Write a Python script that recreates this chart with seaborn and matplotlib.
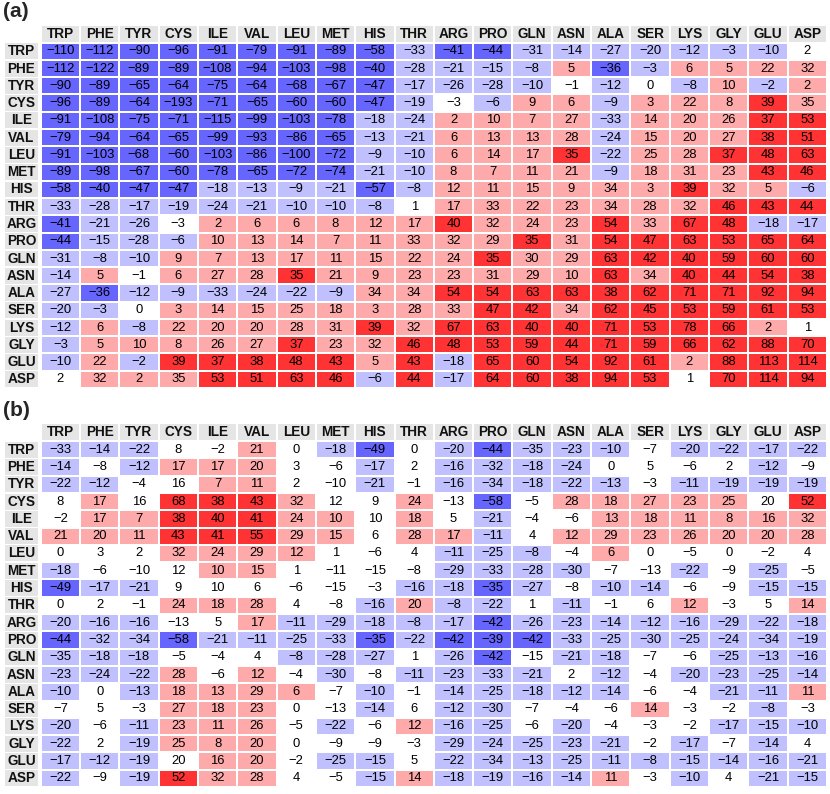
import numpy as np
import matplotlib
matplotlib.use("Agg")
import matplotlib.pyplot as plt
import seaborn as sns
from matplotlib.colors import ListedColormap
from matplotlib.patches import Rectangle

residues = ['TRP', 'PHE', 'TYR', 'CYS', 'ILE', 'VAL', 'LEU', 'MET', 'HIS', 'THR',
            'ARG', 'PRO', 'GLN', 'ASN', 'ALA', 'SER', 'LYS', 'GLY', 'GLU', 'ASP']

# panel (a) values
vals_a = [
    [-110, -112, -90, -96, -91, -79, -91, -89, -58, -33, -41, -44, -31, -14, -27, -20, -12, -3, -10, 2],
    [-112, -122, -89, -89, -108, -94, -103, -98, -40, -28, -21, -15, -8, 5, -36, -3, 6, 5, 22, 32],
    [-90, -89, -65, -64, -75, -64, -68, -67, -47, -17, -26, -28, -10, -1, -12, 0, -8, 10, -2, 2],
    [-96, -89, -64, -193, -71, -65, -60, -60, -47, -19, -3, -6, 9, 6, -9, 3, 22, 8, 39, 35],
    [-91, -108, -75, -71, -115, -99, -103, -78, -18, -24, 2, 10, 7, 27, -33, 14, 20, 26, 37, 53],
    [-79, -94, -64, -65, -99, -93, -86, -65, -13, -21, 6, 13, 13, 28, -24, 15, 20, 27, 38, 51],
    [-91, -103, -68, -60, -103, -86, -100, -72, -9, -10, 6, 14, 17, 35, -22, 25, 28, 37, 48, 63],
    [-89, -98, -67, -60, -78, -65, -72, -74, -21, -10, 8, 7, 11, 21, -9, 18, 31, 23, 43, 46],
    [-58, -40, -47, -47, -18, -13, -9, -21, -57, -8, 12, 11, 15, 9, 34, 3, 39, 32, 5, -6],
    [-33, -28, -17, -19, -24, -21, -10, -10, -8, 1, 17, 33, 22, 23, 34, 28, 32, 46, 43, 44],
    [-41, -21, -26, -3, 2, 6, 6, 8, 12, 17, 40, 32, 24, 23, 54, 33, 67, 48, -18, -17],
    [-44, -15, -28, -6, 10, 13, 14, 7, 11, 33, 32, 29, 35, 31, 54, 47, 63, 53, 65, 64],
    [-31, -8, -10, 9, 7, 13, 17, 11, 15, 22, 24, 35, 30, 29, 63, 42, 40, 59, 60, 60],
    [-14, 5, -1, 6, 27, 28, 35, 21, 9, 23, 23, 31, 29, 10, 63, 34, 40, 44, 54, 38],
    [-27, -36, -12, -9, -33, -24, -22, -9, 34, 34, 54, 54, 63, 63, 38, 62, 71, 71, 92, 94],
    [-20, -3, 0, 3, 14, 15, 25, 18, 3, 28, 33, 47, 42, 34, 62, 45, 53, 59, 61, 53],
    [-12, 6, -8, 22, 20, 20, 28, 31, 39, 32, 67, 63, 40, 40, 71, 53, 78, 66, 2, 1],
    [-3, 5, 10, 8, 26, 27, 37, 23, 32, 46, 48, 53, 59, 44, 71, 59, 66, 62, 88, 70],
    [-10, 22, -2, 39, 37, 38, 48, 43, 5, 43, -18, 65, 60, 54, 92, 61, 2, 88, 113, 114],
    [2, 32, 2, 35, 53, 51, 63, 46, -6, 44, -17, 64, 60, 38, 94, 53, 1, 70, 114, 94],
]

# colour class per cell: B strong neg, b neg, w none, r pos, R strong pos
sig_a = [
    "BBBBBBBBBbBBbbbbbbbw",
    "BBBBBBBBBbbbbrBbrrrr",
    "BBBBBBBBBbbbbwbwbrbr",
    "BBBBBBBBBbwbrrbrrrRr",
    "BBBBBBBBbbrrrrbrrrRR",
    "BBBBBBBBbbrrrrbrrrRR",
    "BBBBBBBBbbrrrRbrrRRR",
    "BBBBBBBBbbrrrrbrrrRR",
    "BBBBbbbbBbrrrrrrRrrb",
    "bbbbbbbbbwrrrrrrrRRR",
    "BbbwrrrrrrRrrrRrRRbb",
    "BbbbrrrrrrrrRrRRRRRR",
    "bbbrrrrrrrrRrrRRRRRR",
    "brwrrrRrrrrrrrRrRRRR",
    "bBbbbbbbrrRRRRRRRRRR",
    "bbwrrrrrrrrRRrRRRRRR",
    "brbrrrrrRrRRRRRRRRrw",
    "brrrrrRrrRRRRRRRRRRR",
    "brbRRRRRrRbRRRRRrRRR",
    "wrrrRRRRbRbRRRRRwRRR",
]

# panel (b) values
vals_b = [
    [-33, -14, -22, 8, -2, 21, 0, -18, -49, 0, -20, -44, -35, -23, -10, -7, -20, -22, -17, -22],
    [-14, -8, -12, 17, 17, 20, 3, -6, -17, 2, -16, -32, -18, -24, 0, 5, -6, 2, -12, -9],
    [-22, -12, -4, 16, 7, 11, 2, -10, -21, -1, -16, -34, -18, -22, -13, -3, -11, -19, -19, -19],
    [8, 17, 16, 68, 38, 43, 32, 12, 9, 24, -13, -58, -5, 28, 18, 27, 23, 25, 20, 52],
    [-2, 17, 7, 38, 40, 41, 24, 10, 10, 18, 5, -21, -4, -6, 13, 18, 11, 8, 16, 32],
    [21, 20, 11, 43, 41, 55, 29, 15, 6, 28, 17, -11, 4, 12, 29, 23, 26, 20, 20, 28],
    [0, 3, 2, 32, 24, 29, 12, 1, -6, 4, -11, -25, -8, -4, 6, 0, -5, 0, -2, 4],
    [-18, -6, -10, 12, 10, 15, 1, -11, -15, -8, -29, -33, -28, -30, -7, -13, -22, -9, -25, -5],
    [-49, -17, -21, 9, 10, 6, -6, -15, -3, -16, -18, -35, -27, -8, -10, -14, -6, -9, -15, -15],
    [0, 2, -1, 24, 18, 28, 4, -8, -16, 20, -8, -22, 1, -11, -1, 6, 12, -3, 5, 14],
    [-20, -16, -16, -13, 5, 17, -11, -29, -18, -8, -17, -42, -26, -23, -14, -12, -16, -29, -22, -18],
    [-44, -32, -34, -58, -21, -11, -25, -33, -35, -22, -42, -39, -42, -33, -25, -30, -25, -24, -34, -19],
    [-35, -18, -18, -5, -4, 4, -8, -28, -27, 1, -26, -42, -15, -21, -18, -7, -6, -25, -13, -16],
    [-23, -24, -22, 28, -6, 12, -4, -30, -8, -11, -23, -33, -21, 2, -12, -4, -20, -23, -25, -14],
    [-10, 0, -13, 18, 13, 29, 6, -7, -10, -1, -14, -25, -18, -12, -14, -6, -4, -21, -11, 11],
    [-7, 5, -3, 27, 18, 23, 0, -13, -14, 6, -12, -30, -7, -4, -6, 14, -3, -2, -8, -3],
    [-20, -6, -11, 23, 11, 26, -5, -22, -6, 12, -16, -25, -6, -20, -4, -3, -2, -17, -15, -10],
    [-22, 2, -19, 25, 8, 20, 0, -9, -9, -3, -29, -24, -25, -23, -21, -2, -17, -7, -14, 4],
    [-17, -12, -19, 20, 16, 20, -2, -25, -15, 5, -22, -34, -13, -25, -11, -8, -15, -14, -16, -21],
    [-22, -9, -19, 52, 32, 28, 4, -5, -15, 14, -18, -19, -16, -14, 11, -3, -10, 4, -21, -15],
]

sig_b = [
    "bbbwwrwbBwbBbbbwbbbb",
    "bwbrrrwwbwbbbbwwwwbw",
    "bbwwrrwwbwbbbbbwbbbb",
    "wrwRRRrwwrwBwrrrrrwR",
    "wrrRRRrrwrwbwwrrrrrr",
    "rrrRRRrrwrrbwrrrrrrr",
    "wwwrrrrwwwbbbwrwwwww",
    "bwwwrrwwwwbbbbwwbwbw",
    "BbbwwwwwwbbBbwbbwwbb",
    "wwwrrrwwbrbbwbwwrwwr",
    "bbbwwrbbbbbBbbbbbbbb",
    "BbbBbbbbBbBBBbbbbbbb",
    "bbbwwwbbbwbBwbbwwbbb",
    "bbbrwrwbwbbbbwbwbbbb",
    "bwbrrrrwbwbbbbbwwbbr",
    "wwwrrrwwbwbbwwwrwwbw",
    "bwbrrrwbwrbbwbwwwbbb",
    "bwbrrrwwwwbbbbbwbwbw",
    "bbbwrrwbbwbbbbbbbbbb",
    "bwbRrrwwbrbbbbrwbwbb",
]

levels = "BbwrR"
cmap = ListedColormap(['#6666ff', '#c0c0ff', '#ffffff', '#ffaaaa', '#ff3333'])

sns.set_theme(style='white')
plt.rcParams['font.family'] = ['Liberation Sans', 'DejaVu Sans']

fig = plt.figure(figsize=(8.3, 7.94), dpi=100)
W, H = 830.0, 794.0


def draw_panel(ax, vals, sig, tag):
    vals = np.array(vals)
    codes = np.array([[levels.index(c) for c in row] for row in sig])
    labels = np.array([[str(v).replace('-', '\u2212') for v in row] for row in vals])
    sns.heatmap(codes, ax=ax, cmap=cmap, vmin=-0.5, vmax=4.5, cbar=False,
                annot=labels, fmt='', annot_kws={'size': 9.4, 'color': 'black'},
                linewidths=1.4, linecolor='white',
                xticklabels=False, yticklabels=False)
    for i, name in enumerate(residues):
        # column header
        ax.add_patch(Rectangle((i + 0.025, -0.98), 0.95, 0.92, facecolor='#e5e5e5',
                               edgecolor='none', clip_on=False))
        ax.text(i + 0.5, -0.5, name, ha='center', va='center',
                fontsize=9.8, fontweight='bold', color='#111111')
        # row header
        ax.add_patch(Rectangle((-0.91, i + 0.04), 0.84, 0.92, facecolor='#e5e5e5',
                               edgecolor='none', clip_on=False))
        ax.text(-0.49, i + 0.5, name, ha='center', va='center',
                fontsize=9.8, fontweight='bold', color='#111111')
    ax.text(-0.95, -1.78, tag, ha='left', va='center', fontsize=15, fontweight='bold')


ax_a = fig.add_axes([40.7 / W, 1 - 388 / H, (827 - 40.7) / W, (388 - 42.7) / H])
draw_panel(ax_a, vals_a, sig_a, '(a)')

ax_b = fig.add_axes([40.7 / W, 1 - 787 / H, (827 - 40.7) / W, (787 - 441) / H])
draw_panel(ax_b, vals_b, sig_b, '(b)')

fig.savefig('out.png', dpi=100)
